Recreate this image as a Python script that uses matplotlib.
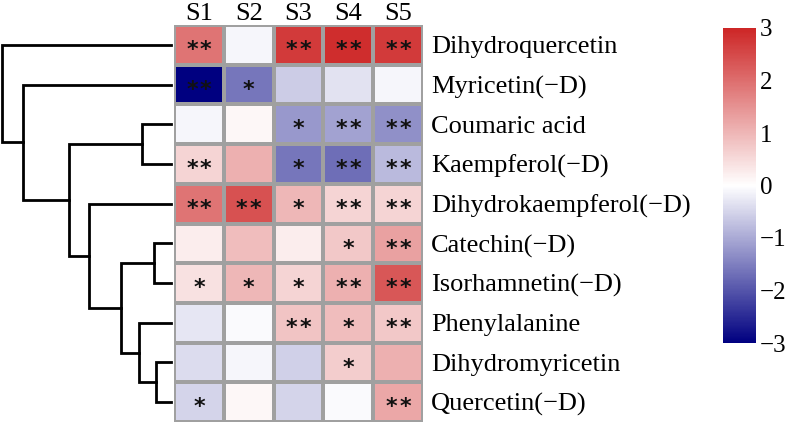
import numpy as np
import matplotlib
matplotlib.use("Agg")
from matplotlib import pyplot as plt
from matplotlib.colors import LinearSegmentedColormap

plt.rcParams['font.family'] = ['Liberation Serif', 'DejaVu Serif']

samples = ["S1", "S2", "S3", "S4", "S5"]
compounds = ["Dihydroquercetin", "Myricetin(\u2212D)", "Coumaric acid", "Kaempferol(\u2212D)",
             "Dihydrokaempferol(\u2212D)", "Catechin(\u2212D)", "Isorhamnetin(\u2212D)",
             "Phenylalanine", "Dihydromyricetin", "Quercetin(\u2212D)"]

# z-scores
values = [
    [1.9, -0.1, 2.7, 2.9, 2.7],
    [-3.0, -1.6, -0.6, -0.35, -0.1],
    [-0.1, 0.1, -1.2, -1.1, -1.3],
    [0.6, 1.1, -1.6, -1.7, -0.8],
    [1.9, 2.4, 1.0, 0.6, 0.6],
    [0.25, 0.9, 0.25, 0.75, 1.3],
    [0.4, 1.0, 0.6, 1.1, 2.3],
    [-0.3, -0.05, 0.8, 0.9, 0.75],
    [-0.4, -0.1, -0.55, 0.7, 1.1],
    [-0.5, 0.1, -0.5, -0.05, 1.2],
]

signif = [
    ["**", "", "**", "**", "**"],
    ["**", "*", "", "", ""],
    ["", "", "*", "**", "**"],
    ["**", "", "*", "**", "**"],
    ["**", "**", "*", "**", "**"],
    ["", "", "", "*", "**"],
    ["*", "*", "*", "**", "**"],
    ["", "", "**", "*", "**"],
    ["", "", "", "*", ""],
    ["*", "", "", "", "**"],
]

# row tree, scipy-style: (left, right, height); ids >= 10 are earlier merges
merges = [
    (8, 9, 15),
    (5, 6, 17),
    (2, 3, 29),
    (7, 10, 32),
    (11, 13, 50),
    (4, 14, 82),
    (12, 15, 102),
    (1, 16, 148),
    (0, 17, 169),
]

W, H = 788, 424
fig = plt.figure(figsize=(W / 100, H / 100), dpi=100)


def px_axes(x0, y0, x1, y1):
    return fig.add_axes([x0 / W, 1 - y1 / H, (x1 - x0) / W, (y1 - y0) / H])


cmap = LinearSegmentedColormap.from_list("nwf", ["#000080", "#ffffff", "#CD2626"])
data = np.array(values)
nrow, ncol = data.shape

# heatmap
ax = px_axes(174, 25, 423, 422)
mesh = ax.pcolormesh(data, cmap=cmap, vmin=-3, vmax=3, edgecolors="#a0a0a0", linewidth=1.5)
ax.set_xlim(0, ncol)
ax.set_ylim(nrow, 0)
for s in ax.spines.values():
    s.set_visible(False)
ax.xaxis.tick_top()
ax.set_xticks(np.arange(ncol) + 0.5, samples, fontsize=19)
ax.yaxis.tick_right()
ax.set_yticks(np.arange(nrow) + 0.5, compounds, fontsize=19)
ax.tick_params(length=0, pad=6)
ax.tick_params(axis="x", pad=0)

# stars drawn one by one so they keep a small gap
for i in range(nrow):
    for j in range(ncol):
        k = len(signif[i][j])
        for m in range(k):
            dx = (m - (k - 1) / 2) * 0.28
            ax.text(j + 0.5 + dx, i + 0.63, "*", ha="center", va="center",
                    fontsize=16, fontweight="bold", family="DejaVu Sans", color="#111111")

# dendrogram
dax = px_axes(2, 25, 171, 422)
pos = {k: k + 0.5 for k in range(nrow)}
hgt = {k: 0.0 for k in range(nrow)}
for n, (a, b, h) in enumerate(merges):
    ya, yb = pos[a], pos[b]
    dax.plot([hgt[a], h, h, hgt[b]], [ya, ya, yb, yb], color="black", lw=2,
             clip_on=False, solid_joinstyle="miter")
    pos[nrow + n] = (ya + yb) / 2
    hgt[nrow + n] = h
dax.set_xlim(merges[-1][2], 0)
dax.set_ylim(nrow, 0)
dax.axis("off")

# colorbar
cax = px_axes(723, 28, 756, 343)
cb = fig.colorbar(mesh, cax=cax, ticks=[-3, -2, -1, 0, 1, 2, 3])
cb.outline.set_visible(False)
cax.tick_params(length=0, labelsize=18, pad=3)

fig.savefig("out.png", dpi=100)
